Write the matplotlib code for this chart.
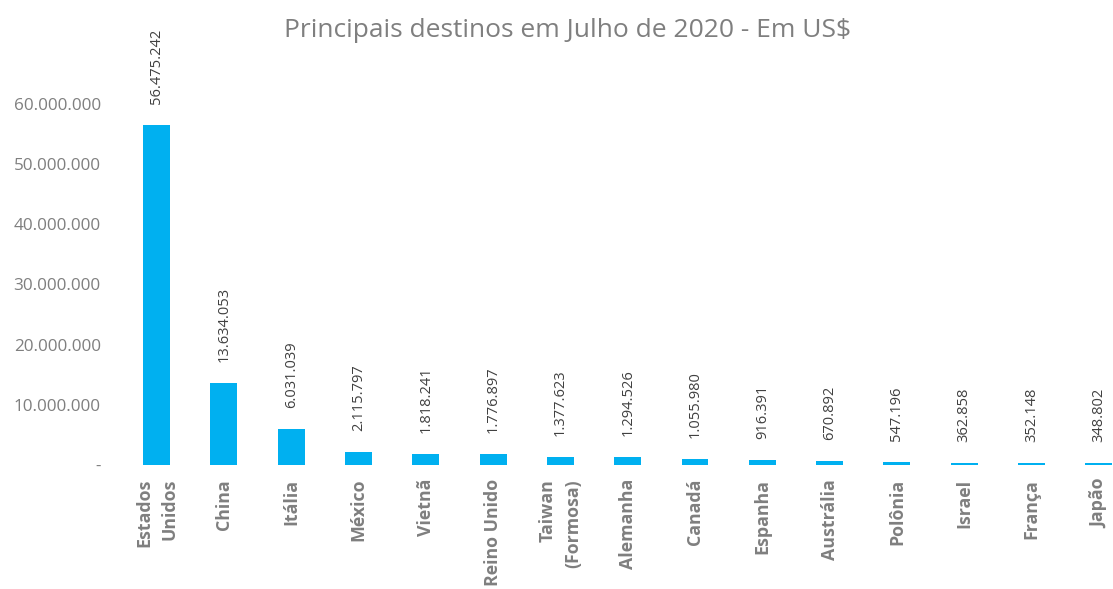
import numpy as np
import matplotlib.pyplot as plt

paises = ["Estados\nUnidos", "China", "Itália", "México", "Vietnã", "Reino Unido",
          "Taiwan\n(Formosa)", "Alemanha", "Canadá", "Espanha", "Austrália",
          "Polônia", "Israel", "França", "Japão"]
valores = [56475242, 13634053, 6031039, 2115797, 1818241, 1776897, 1377623,
           1294526, 1055980, 916391, 670892, 547196, 362858, 352148, 348802]
yticks = [0, 10000000, 20000000, 30000000, 40000000, 50000000, 60000000]


def fmt(v):
    # separador de milhar com ponto
    return f"{v:,}".replace(",", ".")


plt.rcParams['font.family'] = ['Open Sans', 'DejaVu Sans']

fig = plt.figure(figsize=(11.13, 5.89), dpi=100)
# eixo um pouco maior que a figura, o ultimo rotulo fica cortado como no original
ax = fig.add_axes([0.1105, 0.2105, 0.907, 0.613])

x = np.arange(len(paises))
ax.bar(x, valores, width=0.4, color="#00B0F0")

for xi, v in zip(x, valores):
    ax.annotate(fmt(v), (xi, v), xytext=(0, 15), textcoords="offset points",
                rotation=90, ha="center", va="bottom", fontsize=10.5,
                color="#404040", annotation_clip=False)

ax.set_xlim(-0.5, len(paises) - 0.5)
ax.set_ylim(0, 60000000)
ax.set_yticks(yticks)
ax.set_yticklabels(["-"] + [fmt(t) for t in yticks[1:]], color="#7f7f7f", fontsize=12.3)
ax.set_xticks(x)
ax.set_xticklabels(paises, rotation=90, ha="center", va="top", multialignment="right",
                   color="#7f7f7f", fontsize=12.8, fontweight="bold", linespacing=1.5)
ax.tick_params(axis="y", length=0, pad=16)
ax.tick_params(axis="x", length=0, pad=10)
for s in ax.spines.values():
    s.set_visible(False)

fig.text(0.51, 0.949, "Principais destinos em Julho de 2020 - Em US$",
         ha="center", va="center", fontsize=19, color="#7f7f7f")

fig.savefig("out.png", dpi=100)
